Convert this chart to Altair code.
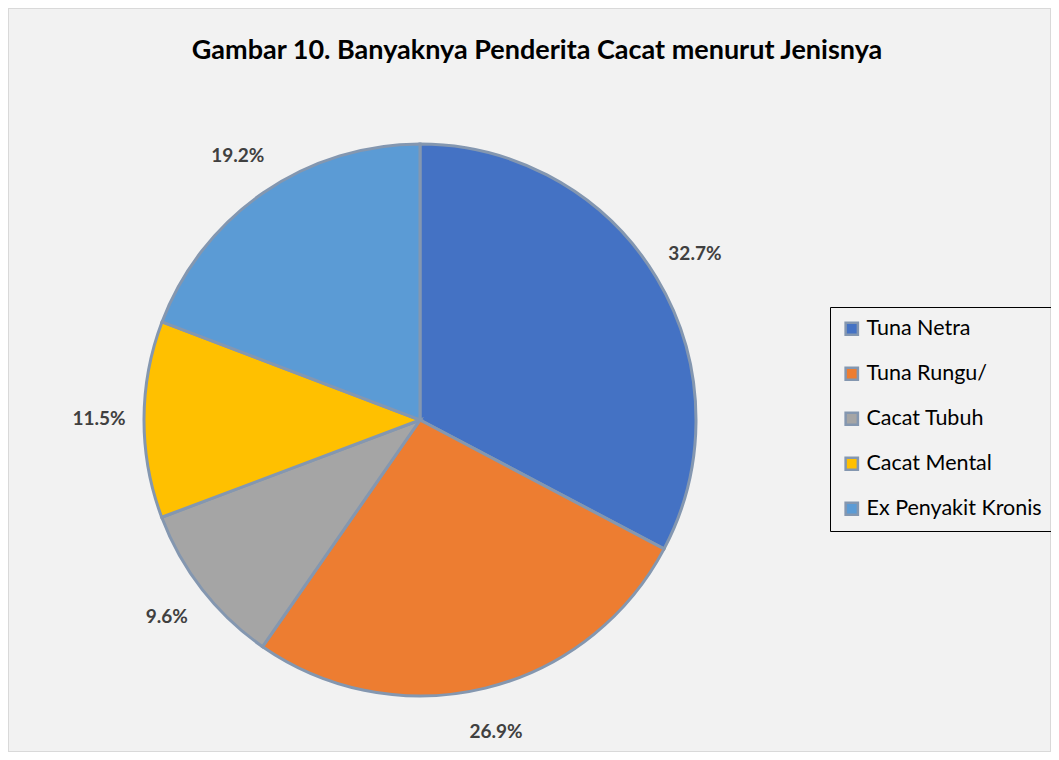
import altair as alt
import pandas as pd

categories = ["Tuna Netra", "Tuna Rungu/", "Cacat Tubuh", "Cacat Mental", "Ex Penyakit Kronis"]
percentages = [32.7, 26.9, 9.6, 11.5, 19.2]
labels = ["32.7%", "26.9%", "9.6%", "11.5%", "19.2%"]
colors = ["#4472c4", "#ed7d31", "#a5a5a5", "#ffc000", "#5b9bd5"]
title_text = "Gambar 10. Banyaknya Penderita Cacat menurut Jenisnya"

df = pd.DataFrame({
    "cat": categories,
    "pct": percentages,
    "label": labels,
    "order": list(range(len(categories))),
})

CX, CY = 412, 412

base = alt.Chart(df).encode(
    theta=alt.Theta("pct:Q", stack=True),
    order=alt.Order("order:Q"),
    x=alt.value(CX),
    y=alt.value(CY),
)

pie = base.mark_arc(stroke="#8497b0", strokeWidth=3, radius=276).encode(
    color=alt.Color(
        "cat:N",
        scale=alt.Scale(domain=categories, range=colors),
        sort=categories,
        legend=alt.Legend(
            title=None,
            orient="none",
            legendX=822,
            legendY=299,
            strokeColor="black",
            padding=11,
            symbolType="square",
            symbolSize=150,
            symbolStrokeColor="#8497b0",
            symbolStrokeWidth=2.5,
            symbolOpacity=1,
            labelFont="Lato",
            labelFontSize=21.5,
            labelColor="#000000",
            labelLimit=300,
            rowPadding=22,
            labelOffset=4,
        ),
    ),
)

text = base.mark_text(
    radius=321, font="Lato", fontSize=19, fontWeight="bold", color="#404040"
).encode(text="label:N")

title = alt.Chart(pd.DataFrame({"t": [title_text]})).mark_text(
    font="Lato", fontSize=27, fontWeight="bold", color="#000000", align="center", baseline="middle"
).encode(text="t:N", x=alt.value(529), y=alt.value(43))

chart = alt.layer(pie, text, title).properties(
    width=1043,
    height=744,
    autosize=alt.AutoSizeParams(type="none"),
    padding=0,
    background="#f2f2f2",
).configure_view(stroke="#d9d9d9", strokeWidth=2)

chart.save("out.html", embed_options={"renderer": "svg", "actions": False})
